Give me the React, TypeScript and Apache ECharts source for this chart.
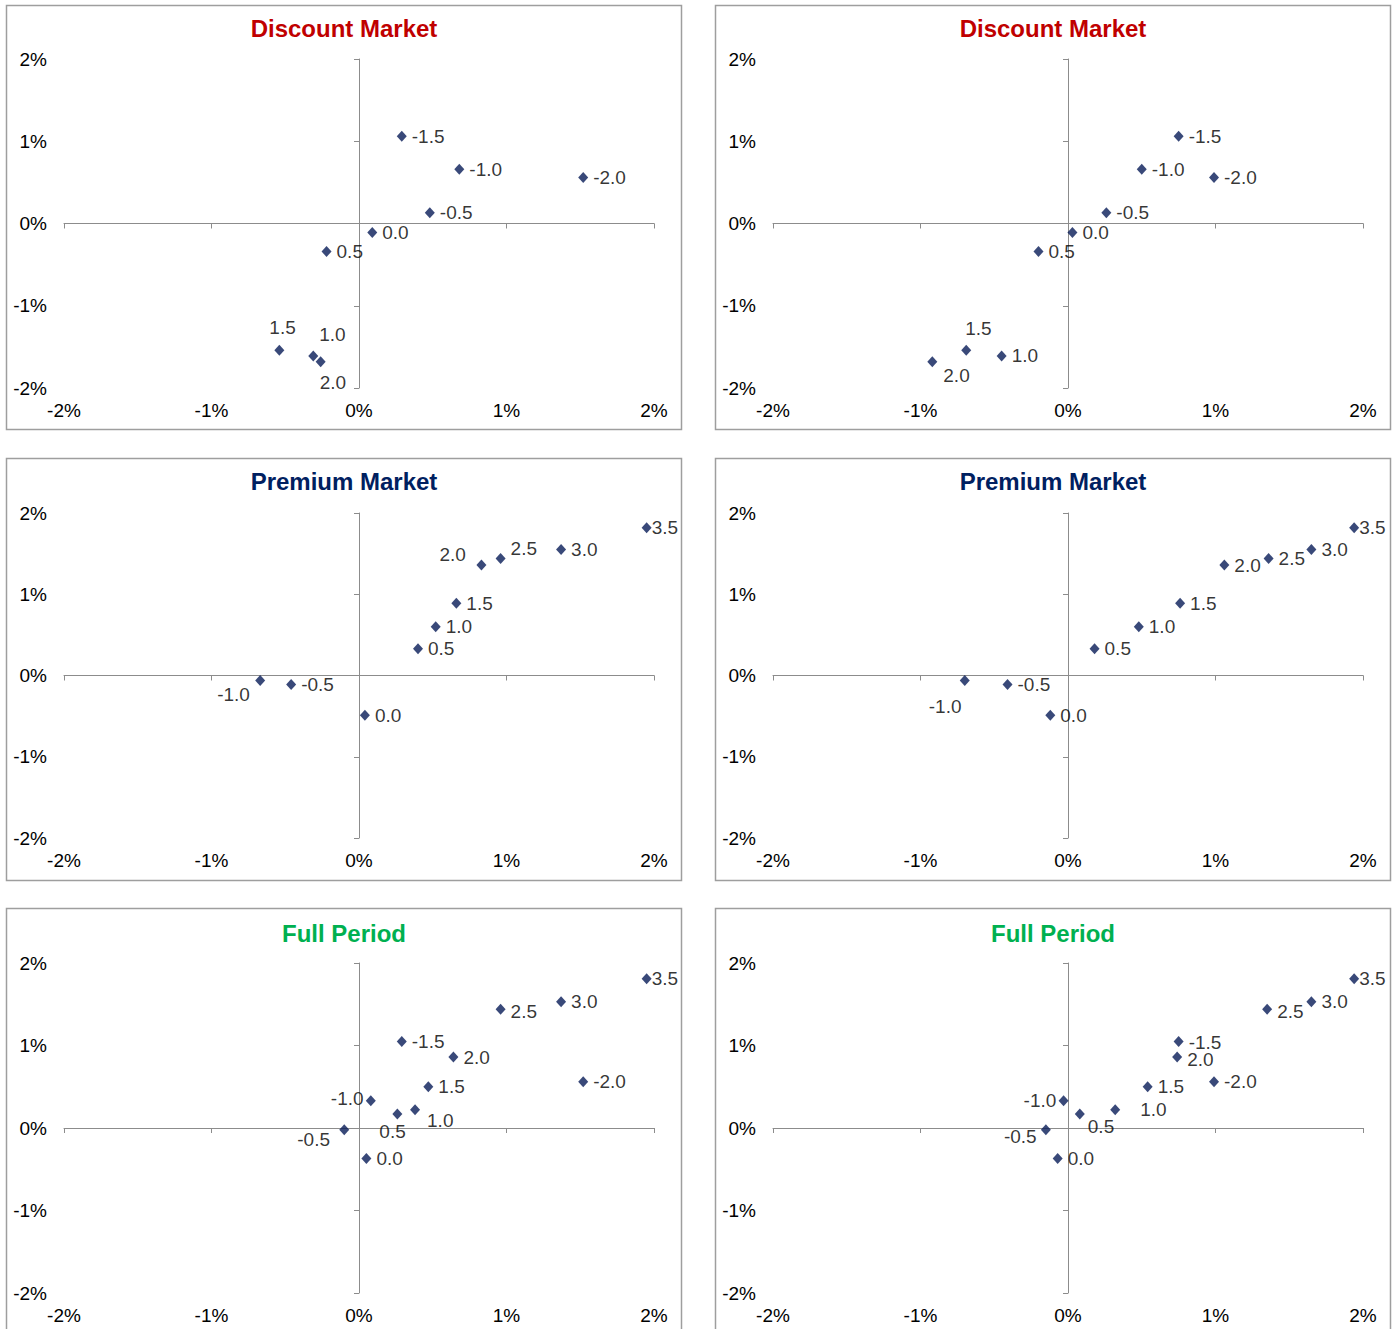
import React, { useEffect, useRef } from 'react';
import * as echarts from 'echarts';

// ---------- Data (values in %) ----------
const discountLabels = ['-2.0', '-1.5', '-1.0', '-0.5', '0.0', '0.5', '1.0', '1.5', '2.0'];
const discountY = [0.56, 1.06, 0.66, 0.13, -0.11, -0.34, -1.61, -1.54, -1.68];
const discountXLeft = [1.52, 0.29, 0.68, 0.48, 0.09, -0.22, -0.31, -0.54, -0.26];
const discountXRight = [0.99, 0.75, 0.5, 0.26, 0.03, -0.2, -0.45, -0.69, -0.92];

const premiumLabels = ['-1.0', '-0.5', '0.0', '0.5', '1.0', '1.5', '2.0', '2.5', '3.0', '3.5'];
const premiumY = [-0.06, -0.11, -0.49, 0.33, 0.6, 0.89, 1.36, 1.44, 1.55, 1.82];
const premiumXLeft = [-0.67, -0.46, 0.04, 0.4, 0.52, 0.66, 0.83, 0.96, 1.37, 1.95];
const premiumXRight = [-0.7, -0.41, -0.12, 0.18, 0.48, 0.76, 1.06, 1.36, 1.65, 1.94];

const fullLabels = ['-2.0', '-1.5', '-1.0', '-0.5', '0.0', '0.5', '1.0', '1.5', '2.0', '2.5', '3.0', '3.5'];
const fullY = [0.56, 1.05, 0.33, -0.02, -0.37, 0.17, 0.22, 0.5, 0.86, 1.44, 1.53, 1.81];
const fullXLeft = [1.52, 0.29, 0.08, -0.1, 0.05, 0.26, 0.38, 0.47, 0.64, 0.96, 1.37, 1.95];
const fullXRight = [0.99, 0.75, -0.03, -0.15, -0.07, 0.08, 0.32, 0.54, 0.74, 1.35, 1.65, 1.94];

const axisMin = -2;
const axisMax = 2;
const axisStep = 1;

const panelTitles = ['Discount Market', 'Discount Market', 'Premium Market', 'Premium Market', 'Full Period', 'Full Period'];
const panelLabels = [discountLabels, discountLabels, premiumLabels, premiumLabels, fullLabels, fullLabels];
const panelX = [discountXLeft, discountXRight, premiumXLeft, premiumXRight, fullXLeft, fullXRight];
const panelY = [discountY, discountY, premiumY, premiumY, fullY, fullY];

// ---------- Styling / layout ----------
const titleColors = ['#c00000', '#c00000', '#002060', '#002060', '#00b050', '#00b050'];
const FONT = '"Liberation Sans", Arial, sans-serif';
const AXIS_COLOR = '#8c8c8c';
const FRAME_COLOR = '#9e9e9e';
const MARKER_COLOR = '#081c58';

const gridLeft = [64, 773];
const gridWidth = 590;
const gridTop = [59, 513, 963];
const gridHeight = [329, 325, 330];
const frameX = [6, 715];
const frameW = 675;
const frameY = [5, 458, 908];
const frameH = [424, 422, 450];
const titleY = [28.5, 481, 933];

// label nudges [dx, dy] per panel (label placement only)
const labelNudges: Record<string, number[]>[] = [
  { '1.5': [-20, -23], '1.0': [-4, -21], '2.0': [-11, 21] },
  { '1.5': [-11, -22], '2.0': [1, 14] },
  { '3.5': [-5, 0], '2.5': [0, -10], '2.0': [-52, -11], '-1.0': [-53, 14] },
  { '3.5': [-5, 0], '-1.0': [-46, 26] },
  { '3.5': [-5, 0], '2.5': [0, 2], '-1.0': [-50, -2], '1.0': [2, 11], '0.5': [-28, 18], '-0.5': [-57, 10] },
  { '3.5': [-5, 0], '2.5': [0, 2], '-1.5': [0, 1], '2.0': [0, 2], '-1.0': [-50, 0], '1.0': [15, 0], '0.5': [-2, 13], '-0.5': [-52, 7] },
];

function buildOption() {
  const grid: any[] = [];
  const xAxis: any[] = [];
  const yAxis: any[] = [];
  const series: any[] = [];
  const graphic: any[] = [];

  for (let i = 0; i < 6; i++) {
    const col = i % 2;
    const row = Math.floor(i / 2);
    grid.push({
      left: gridLeft[col],
      top: gridTop[row],
      width: gridWidth,
      height: gridHeight[row],
      containLabel: false,
    });

    const baseAxis = {
      gridIndex: i,
      type: 'value',
      min: axisMin,
      max: axisMax,
      interval: axisStep,
      splitLine: { show: false },
    };

    // line axes (cross at zero)
    xAxis.push({
      ...baseAxis,
      position: 'top',
      axisLine: { show: true, onZero: true, lineStyle: { color: AXIS_COLOR, width: 1 } },
      axisTick: { show: true, inside: true, length: 5, lineStyle: { color: AXIS_COLOR } },
      axisLabel: { show: false },
    });
    // label axes (at the bottom / left)
    xAxis.push({
      ...baseAxis,
      position: 'bottom',
      axisLine: { show: false, onZero: false },
      axisTick: { show: false },
      axisLabel: {
        show: true,
        margin: 13,
        fontSize: 19,
        fontFamily: FONT,
        color: '#000',
        formatter: (v: number) => `${Math.round(v)}%`,
      },
    });
    yAxis.push({
      ...baseAxis,
      position: 'right',
      axisLine: { show: true, onZero: true, lineStyle: { color: AXIS_COLOR, width: 1 } },
      axisTick: { show: true, inside: true, length: 5, lineStyle: { color: AXIS_COLOR } },
      axisLabel: { show: false },
    });
    yAxis.push({
      ...baseAxis,
      position: 'left',
      axisLine: { show: false, onZero: false },
      axisTick: { show: false },
      axisLabel: {
        show: true,
        margin: 17,
        fontSize: 19,
        fontFamily: FONT,
        color: '#000',
        formatter: (v: number) => `${Math.round(v)}%`,
      },
    });

    const labels = panelLabels[i];
    const xs = panelX[i];
    const ys = panelY[i];
    const nudge = labelNudges[i];
    series.push({
      type: 'scatter',
      name: panelTitles[i],
      xAxisIndex: 2 * i,
      yAxisIndex: 2 * i,
      symbol: 'diamond',
      symbolSize: [10, 11],
      itemStyle: { color: MARKER_COLOR },
      label: {
        show: true,
        position: 'right',
        distance: 5,
        formatter: '{b}',
        fontSize: 19,
        fontFamily: FONT,
        color: '#000',
      },
      emphasis: { disabled: true },
      data: labels.map((lab, k) => {
        const item: any = { name: lab, value: [xs[k], ys[k]] };
        if (nudge[lab]) item.label = { offset: nudge[lab] };
        return item;
      }),
    });

    graphic.push({
      type: 'rect',
      silent: true,
      shape: { x: frameX[col] + 0.5, y: frameY[row] + 0.5, width: frameW, height: frameH[row] },
      style: { fill: 'none', stroke: FRAME_COLOR, lineWidth: 1.5 },
      z: -1,
    });
    graphic.push({
      type: 'text',
      silent: true,
      x: frameX[col] + frameW / 2 + 0.5,
      y: titleY[row],
      style: {
        text: panelTitles[i],
        fill: titleColors[i],
        font: `bold 24px ${FONT}`,
        textAlign: 'center',
        textVerticalAlign: 'middle',
      },
    });
  }

  return {
    animation: false,
    backgroundColor: '#ffffff',
    grid,
    xAxis,
    yAxis,
    series,
    graphic,
  };
}

export default function App() {
  const ref = useRef<HTMLDivElement>(null);
  useEffect(() => {
    if (!ref.current) return;
    const chart = echarts.init(ref.current, null, { renderer: 'svg' });
    chart.setOption(buildOption() as any);
    return () => chart.dispose();
  }, []);
  return (
    <div
      ref={ref}
      style={{ position: 'absolute', left: 0, top: 0, width: 1398, height: 1329, background: '#fff', overflow: 'hidden' }}
    />
  );
}
